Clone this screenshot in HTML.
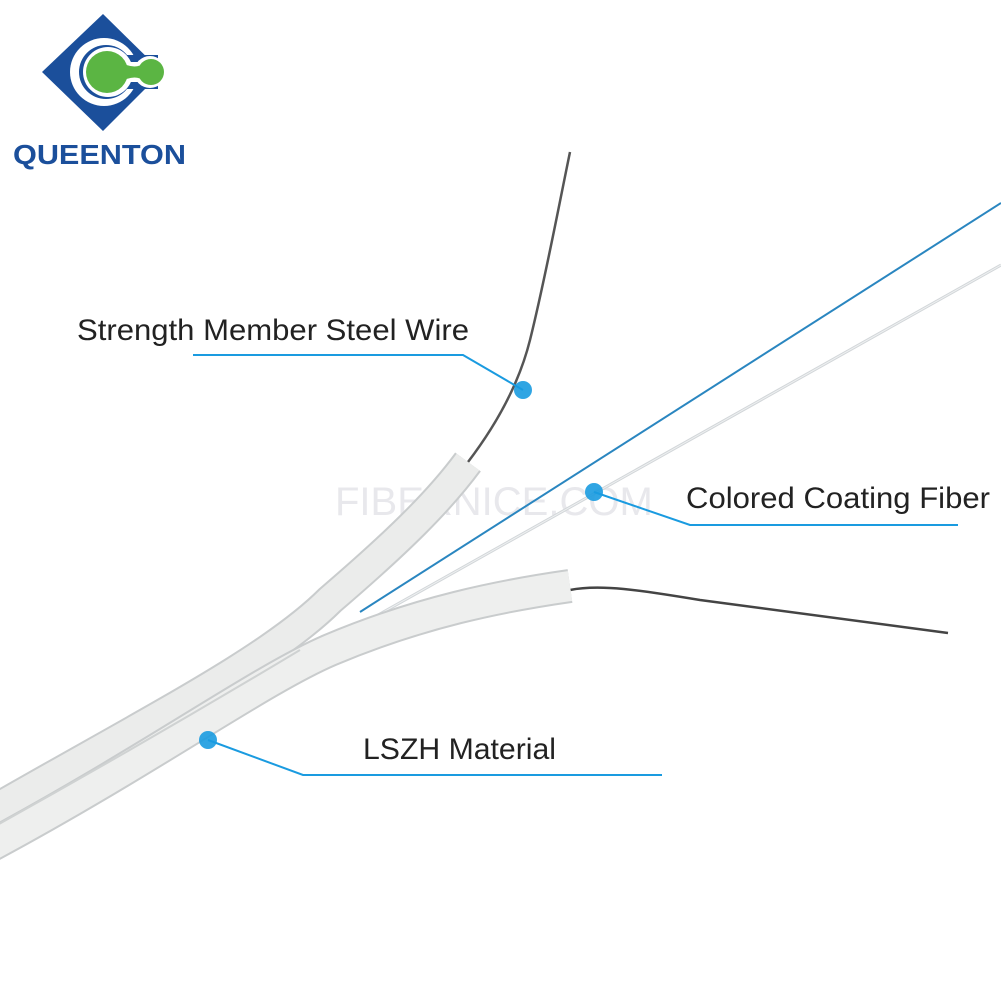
<!DOCTYPE html>
<html><head><meta charset="utf-8"><style>
html,body{margin:0;padding:0;background:#fff;}
svg{display:block}
</style></head><body>
<svg width="1001" height="1001" viewBox="0 0 1001 1001" xmlns="http://www.w3.org/2000/svg">
<rect width="1001" height="1001" fill="#fff"/>
<!-- logo -->
<polygon points="103,14 162,72 103,131 42,72" fill="#1b4f9b"/>
<circle cx="104" cy="72" r="34" fill="#fff"/>
<circle cx="106" cy="72" r="27" fill="#1b4f9b"/>
<rect x="118" y="55" width="40" height="34" fill="#1b4f9b"/>
<circle cx="108" cy="72" r="25" fill="#fff"/>
<path d="M120,62 L146,62 L146,82 L120,82 Z" fill="#fff"/>
<circle cx="150" cy="72" r="16" fill="#fff"/>
<circle cx="107" cy="72" r="21" fill="#5bb543"/>
<circle cx="151" cy="72" r="13" fill="#5bb543"/>
<path d="M122,63 Q136,70 144,63 L144,81 Q136,74 122,81 Z" fill="#5bb543"/>
<text x="13" y="164" font-family="Liberation Sans, sans-serif" font-weight="bold" font-size="28" fill="#1b4f9b" textLength="173" lengthAdjust="spacingAndGlyphs">QUEENTON</text>
<!-- watermark -->
<text x="335" y="515" font-family="Liberation Sans, sans-serif" font-size="40" fill="#e8e8ec">FIBERNICE.COM</text>
<!-- fibers -->
<line x1="360" y1="612" x2="1001" y2="203" stroke="#2a86c0" stroke-width="2"/>
<line x1="330" y1="642" x2="1001" y2="265" stroke="#d2d6d9" stroke-width="3"/>
<line x1="330" y1="642" x2="1001" y2="265" stroke="#eef0f1" stroke-width="1"/>
<!-- wires -->
<path d="M468,462 C500,420 520,380 530,340 C545,280 558,210 570,152" fill="none" stroke="#555" stroke-width="2.5"/>
<path d="M570,590 C600,584 640,590 700,600 L948,633" fill="none" stroke="#444" stroke-width="2.5"/>
<!-- cable strands -->
<path d="M-10,812 C150,720 270,660 330,600 C400,540 440,500 468,462" fill="none" stroke="#c9cccd" stroke-width="32"/>
<path d="M-10,812 C150,720 270,660 330,600 C400,540 440,500 468,462" fill="none" stroke="#ebeceb" stroke-width="28"/>
<path d="M-10,846 C150,760 260,680 330,650 C420,612 500,596 570,586" fill="none" stroke="#c9cccd" stroke-width="34"/>
<path d="M-10,846 C150,760 260,680 330,650 C420,612 500,596 570,586" fill="none" stroke="#eeefee" stroke-width="30"/>
<path d="M-10,829 C150,740 250,680 300,650" fill="none" stroke="#cfd2d2" stroke-width="2"/>
<!-- label 1 -->
<text x="77" y="340" font-family="Liberation Sans, sans-serif" font-size="30" fill="#222" textLength="392" lengthAdjust="spacingAndGlyphs">Strength Member Steel Wire</text>
<polyline points="193,355 463,355 523,390" fill="none" stroke="#1a9be0" stroke-width="2"/>
<circle cx="523" cy="390" r="9" fill="#1a9be0" opacity="0.9"/>
<!-- label 2 -->
<text x="686" y="508" font-family="Liberation Sans, sans-serif" font-size="30" fill="#222" textLength="304" lengthAdjust="spacingAndGlyphs">Colored Coating Fiber</text>
<polyline points="594,492 690,525 958,525" fill="none" stroke="#1a9be0" stroke-width="2"/>
<circle cx="594" cy="492" r="9" fill="#1a9be0" opacity="0.9"/>
<!-- label 3 -->
<text x="363" y="759" font-family="Liberation Sans, sans-serif" font-size="30" fill="#222" textLength="193" lengthAdjust="spacingAndGlyphs">LSZH Material</text>
<polyline points="208,740 303,775 662,775" fill="none" stroke="#1a9be0" stroke-width="2"/>
<circle cx="208" cy="740" r="9" fill="#1a9be0" opacity="0.9"/>
</svg>
</body></html>
